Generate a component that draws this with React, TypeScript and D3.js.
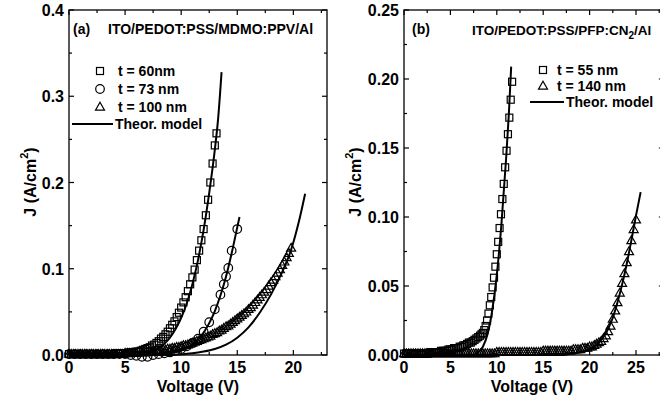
import React from "react";
import * as d3 from "d3";

// ---------- Panel (a): ITO/PEDOT:PSS/MDMO:PPV/Al ----------
const ticksXA = [0, 5, 10, 15, 20];
const minorXA = [2.5, 7.5, 12.5, 17.5, 22.5];
const ticksYA = [0, 0.1, 0.2, 0.3, 0.4];
const minorYA = [0.05, 0.15, 0.25, 0.35];

// t = 60 nm (squares) [V, J]
const sqA: [number, number][] = [
  [0,0.001],[0.2,0.001],[0.4,0.001],[0.6,0.001],[0.8,0.001],[1,0.001],[1.2,0.001],[1.4,0.001],[1.6,0.001],[1.8,0.001],
  [2,0.001],[2.2,0.001],[2.4,0.001],[2.6,0.001],[2.8,0.001],[3,0.001],[3.2,0.001],[3.4,0.001],[3.6,0.001],[3.8,0.001],
  [4,0.001],[4.2,0.002],[4.4,0.002],[4.6,0.002],[4.8,0.002],[5,0.002],[5.2,0.002],[5.4,0.003],[5.6,0.003],[5.8,0.003],
  [6,0.004],[6.2,0.004],[6.4,0.005],[6.6,0.006],[6.8,0.007],[7,0.008],[7.2,0.009],[7.4,0.011],[7.6,0.012],[7.8,0.014],
  [8,0.016],[8.2,0.019],[8.4,0.021],[8.6,0.024],[8.8,0.027],[9,0.031],[9.2,0.035],[9.4,0.039],[9.6,0.044],[9.8,0.049],
  [10,0.055],[10.2,0.061],[10.4,0.067],[10.6,0.074],[10.8,0.082],[11,0.090],[11.2,0.099],[11.4,0.110],[11.6,0.121],[11.8,0.133],
  [12,0.146],[12.2,0.162],[12.4,0.180],[12.6,0.200],[12.8,0.222],[13,0.243],[13.15,0.257]
];
// t = 73 nm (circles)
const ciA: [number, number][] = [
  [0,0.001],[0.5,0.001],[1,0.001],[1.5,0.001],[2,0.001],[2.5,0.001],[3,0.001],[3.5,0.001],[4,0.001],[4.5,0.001],
  [5,0.001],[5.5,0.000],[6,-0.001],[6.5,-0.002],[7,-0.002],[7.5,0.000],[8,0.001],[8.5,0.002],[9,0.003],[9.5,0.005],
  [10,0.007],[10.5,0.010],[11,0.014],[11.5,0.019],[12,0.027],[12.5,0.038],[13,0.053],[13.5,0.070],[13.8,0.082],[14,0.091],
  [14.2,0.101],[14.5,0.121],[15,0.146]
];
// t = 100 nm (triangles)
const trA: [number, number][] = [
  [0,0.001],[0.2,0.001],[0.4,0.001],[0.6,0.001],[0.8,0.001],[1,0.001],[1.2,0.001],[1.4,0.001],[1.6,0.001],[1.8,0.001],
  [2,0.001],[2.2,0.001],[2.4,0.001],[2.6,0.001],[2.8,0.001],[3,0.001],[3.2,0.001],[3.4,0.001],[3.6,0.001],[3.8,0.001],
  [4,0.001],[4.2,0.001],[4.4,0.001],[4.6,0.001],[4.8,0.001],[5,0.002],[5.2,0.002],[5.4,0.002],[5.6,0.002],[5.8,0.002],
  [6,0.002],[6.2,0.003],[6.4,0.003],[6.6,0.003],[6.8,0.003],[7,0.003],[7.2,0.004],[7.4,0.004],[7.6,0.004],[7.8,0.005],
  [8,0.005],[8.2,0.005],[8.4,0.006],[8.6,0.006],[8.8,0.007],[9,0.007],[9.2,0.008],[9.4,0.008],[9.6,0.009],[9.8,0.009],
  [10,0.010],[10.2,0.011],[10.4,0.011],[10.6,0.012],[10.8,0.013],[11,0.014],[11.2,0.015],[11.4,0.016],[11.6,0.017],[11.8,0.018],
  [12,0.019],[12.2,0.020],[12.4,0.021],[12.6,0.022],[12.8,0.024],[13,0.025],[13.2,0.026],[13.4,0.028],[13.6,0.029],[13.8,0.031],
  [14,0.033],[14.2,0.034],[14.4,0.036],[14.6,0.038],[14.8,0.040],[15,0.042],[15.2,0.044],[15.4,0.046],[15.6,0.048],[15.8,0.050],
  [16,0.053],[16.2,0.055],[16.4,0.058],[16.6,0.061],[16.8,0.064],[17,0.067],[17.2,0.070],[17.4,0.073],[17.6,0.076],[17.8,0.080],
  [18,0.084],[18.2,0.087],[18.4,0.091],[18.6,0.095],[18.8,0.099],[19,0.104],[19.2,0.108],[19.4,0.113],[19.6,0.118],[19.8,0.124]
];
const thSqA: [number, number][] = [
  [0,0],[6,0],[6.5,0.0005],[7,0.002],[7.5,0.004],[8,0.008],[8.5,0.013],[9,0.020],[9.5,0.030],[10,0.043],
  [10.5,0.060],[11,0.082],[11.5,0.110],[12,0.145],[12.5,0.188],[13,0.238],[13.3,0.275],[13.6,0.328]
];
const thCiA: [number, number][] = [
  [0,0],[7,0],[8,0.001],[9,0.002],[10,0.005],[10.5,0.008],[11,0.012],[11.5,0.018],[12,0.026],[12.5,0.037],
  [13,0.051],[13.5,0.069],[14,0.091],[14.5,0.118],[15,0.148],[15.2,0.160]
];
const thTrA: [number, number][] = [
  [0,0],[9,0],[10,0.001],[11,0.002],[12,0.004],[13,0.007],[14,0.012],[15,0.020],[16,0.032],[17,0.049],
  [18,0.070],[19,0.096],[19.8,0.122],[20.5,0.155],[21.05,0.187]
];

// ---------- Panel (b): ITO/PEDOT:PSS/PFP:CN2/Al ----------
const ticksXB = [0, 5, 10, 15, 20, 25];
const minorXB = [2.5, 7.5, 12.5, 17.5, 22.5, 27.5];
const ticksYB = [0, 0.05, 0.1, 0.15, 0.2, 0.25];
const minorYB = [0.025, 0.075, 0.125, 0.175, 0.225];

// t = 55 nm (squares)
const sqB: [number, number][] = [
  [0,0.001],[0.2,0.001],[0.4,0.001],[0.6,0.001],[0.8,0.001],[1,0.001],[1.2,0.001],[1.4,0.001],[1.6,0.001],[1.8,0.001],
  [2,0.001],[2.2,0.001],[2.4,0.001],[2.6,0.001],[2.8,0.002],[3,0.002],[3.2,0.002],[3.4,0.002],[3.6,0.002],[3.8,0.002],
  [4,0.003],[4.2,0.003],[4.4,0.003],[4.6,0.003],[4.8,0.004],[5,0.004],[5.2,0.004],[5.4,0.005],[5.6,0.005],[5.8,0.005],
  [6,0.006],[6.2,0.006],[6.4,0.007],[6.6,0.007],[6.8,0.008],[7,0.009],[7.2,0.009],[7.4,0.010],[7.6,0.011],[7.8,0.012],
  [8,0.013],[8.2,0.014],[8.35,0.015],[8.5,0.016],[8.65,0.018],[8.8,0.021],[8.95,0.025],[9.1,0.030],[9.25,0.036],[9.4,0.042],
  [9.55,0.049],[9.7,0.056],[9.85,0.064],[10,0.073],[10.15,0.082],[10.3,0.092],[10.45,0.102],[10.6,0.113],[10.75,0.124],[10.9,0.136],
  [11.05,0.148],[11.2,0.160],[11.35,0.172],[11.5,0.185],[11.65,0.198]
];
// t = 140 nm (triangles)
const trB: [number, number][] = [
  [0,0.001],[0.25,0.001],[0.5,0.001],[0.75,0.001],[1,0.001],[1.25,0.001],[1.5,0.001],[1.75,0.001],[2,0.001],[2.25,0.001],
  [2.5,0.001],[2.75,0.001],[3,0.001],[3.25,0.001],[3.5,0.001],[3.75,0.001],[4,0.001],[4.25,0.001],[4.5,0.001],[4.75,0.001],
  [5,0.001],[5.25,0.001],[5.5,0.001],[5.75,0.001],[6,0.001],[6.25,0.001],[6.5,0.001],[6.75,0.001],[7,0.001],[7.25,0.001],
  [7.5,0.001],[7.75,0.001],[8,0.001],[8.25,0.001],[8.5,0.001],[8.75,0.001],[9,0.001],[9.25,0.001],[9.5,0.001],[9.75,0.001],
  [10,0.002],[10.25,0.002],[10.5,0.002],[10.75,0.002],[11,0.002],[11.25,0.002],[11.5,0.002],[11.75,0.002],[12,0.002],[12.25,0.002],
  [12.5,0.002],[12.75,0.002],[13,0.002],[13.25,0.002],[13.5,0.002],[13.75,0.002],[14,0.002],[14.25,0.002],[14.5,0.002],[14.75,0.002],
  [15,0.003],[15.25,0.003],[15.5,0.003],[15.75,0.003],[16,0.003],[16.25,0.003],[16.5,0.003],[16.75,0.003],[17,0.003],[17.25,0.003],
  [17.5,0.003],[17.75,0.003],[18,0.003],[18.25,0.004],[18.5,0.004],[18.75,0.004],[19,0.004],[19.25,0.005],[19.5,0.005],[19.75,0.005],
  [20,0.006],[20.25,0.006],[20.5,0.007],[20.75,0.008],[21,0.009],[21.25,0.010],[21.5,0.012],[21.75,0.014],[22,0.017],[22.25,0.021],
  [22.5,0.026],[22.75,0.032],[23,0.038],[23.25,0.045],[23.5,0.052],[23.75,0.059],[24,0.067],[24.25,0.075],[24.5,0.083],[24.75,0.091],
  [25,0.098]
];
const thSqB: [number, number][] = [
  [0,0],[7.5,0],[8,0.002],[8.5,0.006],[9,0.015],[9.5,0.032],[10,0.058],[10.5,0.095],[11,0.142],[11.3,0.175],[11.55,0.209]
];
const thTrB: [number, number][] = [
  [0,0],[17,0],[18,0.001],[19,0.002],[20,0.004],[20.5,0.006],[21,0.009],[21.5,0.013],[22,0.019],[22.5,0.027],
  [23,0.038],[23.5,0.051],[24,0.066],[24.5,0.083],[25,0.101],[25.5,0.118]
];

const FONT = "'Liberation Sans', Arial, Helvetica, sans-serif";

type Scale = d3.ScaleLinear<number, number>;

function Square({ x, y, s = 7 }: { x: number; y: number; s?: number }) {
  return <rect x={x - s / 2} y={y - s / 2} width={s} height={s} fill="none" stroke="#000" strokeWidth={1.2} />;
}
function Circ({ x, y, r = 4.3 }: { x: number; y: number; r?: number }) {
  return <circle cx={x} cy={y} r={r} fill="none" stroke="#000" strokeWidth={1.2} />;
}
function Tri({ x, y, s = 9 }: { x: number; y: number; s?: number }) {
  const h = s * 0.87;
  const d = `M${x},${y - h * 0.6}L${x + s / 2},${y + h * 0.4}L${x - s / 2},${y + h * 0.4}Z`;
  return <path d={d} fill="none" stroke="#000" strokeWidth={1.2} />;
}

function Frame({ x, y, ticksX, minorX, ticksY, minorY, fmtY }: {
  x: Scale; y: Scale; ticksX: number[]; minorX: number[]; ticksY: number[]; minorY: number[]; fmtY: (v: number) => string;
}) {
  const [x0, x1] = x.range();
  const [y0, y1] = y.range();
  const maj = 5, mnr = 3;
  return (
    <g>
      <rect x={x0} y={y1} width={x1 - x0} height={y0 - y1} fill="none" stroke="#000" strokeWidth={1.3} />
      {ticksX.map((t) => (
        <g key={"mx" + t}>
          <line x1={x(t)} x2={x(t)} y1={y0} y2={y0 - maj} stroke="#000" strokeWidth={1.2} />
          <line x1={x(t)} x2={x(t)} y1={y1} y2={y1 + maj} stroke="#000" strokeWidth={1.2} />
          <text x={x(t)} y={y0 + 18} textAnchor="middle" fontSize={16} fontWeight="bold" fontFamily={FONT}>{t}</text>
        </g>
      ))}
      {minorX.map((t) => (
        <g key={"nx" + t}>
          <line x1={x(t)} x2={x(t)} y1={y0} y2={y0 - mnr} stroke="#000" strokeWidth={1.2} />
          <line x1={x(t)} x2={x(t)} y1={y1} y2={y1 + mnr} stroke="#000" strokeWidth={1.2} />
        </g>
      ))}
      {ticksY.map((t) => (
        <g key={"my" + t}>
          <line x1={x0} x2={x0 + maj} y1={y(t)} y2={y(t)} stroke="#000" strokeWidth={1.2} />
          <line x1={x1} x2={x1 - maj} y1={y(t)} y2={y(t)} stroke="#000" strokeWidth={1.2} />
          <text x={x0 - 5} y={y(t) + 6} textAnchor="end" fontSize={16} fontWeight="bold" fontFamily={FONT}>{fmtY(t)}</text>
        </g>
      ))}
      {minorY.map((t) => (
        <g key={"ny" + t}>
          <line x1={x0} x2={x0 + mnr} y1={y(t)} y2={y(t)} stroke="#000" strokeWidth={1.2} />
          <line x1={x1} x2={x1 - mnr} y1={y(t)} y2={y(t)} stroke="#000" strokeWidth={1.2} />
        </g>
      ))}
    </g>
  );
}

export default function App() {
  const xA = d3.scaleLinear().domain([0, 23]).range([69, 327]);
  const yA = d3.scaleLinear().domain([0, 0.4]).range([355, 10]);
  const xB = d3.scaleLinear().domain([0, 28]).range([404, 404 + 28 * 9.28]);
  const yB = d3.scaleLinear().domain([0, 0.25]).range([355, 10]);

  const lineA = d3.line<[number, number]>().x((d) => xA(d[0])).y((d) => yA(d[1])).curve(d3.curveMonotoneX);
  const lineB = d3.line<[number, number]>().x((d) => xB(d[0])).y((d) => yB(d[1])).curve(d3.curveMonotoneX);

  const fmtA = d3.format(".1f");
  const fmtB = d3.format(".2f");

  return (
    <svg width={660} height={408} style={{ position: "absolute", left: 0, top: 0, background: "#fff" }}
      fontFamily={FONT}>
      <rect x={0} y={0} width={660} height={408} fill="#fff" />
      {/* Panel a */}
      <Frame x={xA} y={yA} ticksX={ticksXA} minorX={minorXA} ticksY={ticksYA} minorY={minorYA} fmtY={fmtA} />
      {sqA.map((d, i) => <Square key={"sa" + i} x={xA(d[0])} y={yA(d[1])} />)}
      {ciA.map((d, i) => <Circ key={"ca" + i} x={xA(d[0])} y={yA(d[1])} />)}
      {trA.map((d, i) => <Tri key={"ta" + i} x={xA(d[0])} y={yA(d[1])} />)}
      <path d={lineA(thSqA) || ""} fill="none" stroke="#000" strokeWidth={2} />
      <path d={lineA(thCiA) || ""} fill="none" stroke="#000" strokeWidth={2} />
      <path d={lineA(thTrA) || ""} fill="none" stroke="#000" strokeWidth={2} />
      <text x={73} y={34} fontSize={14} fontWeight="bold">(a)</text>
      <text x={108} y={34} fontSize={14} fontWeight="bold">ITO/PEDOT:PSS/MDMO:PPV/Al</text>
      <Square x={100} y={71} />
      <text x={118} y={76} fontSize={14} fontWeight="bold">t = 60nm</text>
      <Circ x={100} y={89} />
      <text x={118} y={94} fontSize={14} fontWeight="bold">t = 73 nm</text>
      <Tri x={100} y={107} />
      <text x={118} y={112} fontSize={14} fontWeight="bold">t = 100 nm</text>
      <line x1={72} x2={113} y1={124} y2={124} stroke="#000" strokeWidth={2} />
      <text x={115} y={129} fontSize={14} fontWeight="bold">Theor. model</text>
      <text x={198} y={392} textAnchor="middle" fontSize={16} fontWeight="bold">Voltage (V)</text>
      <text transform="translate(30,182) rotate(-90)" textAnchor="middle" dominantBaseline="central" fontSize={16} fontWeight="bold">
        J (A/cm<tspan dy={-6} fontSize={11}>2</tspan><tspan dy={6}>)</tspan>
      </text>

      {/* Panel b */}
      <Frame x={xB} y={yB} ticksX={ticksXB} minorX={minorXB} ticksY={ticksYB} minorY={minorYB} fmtY={fmtB} />
      {sqB.map((d, i) => <Square key={"sb" + i} x={xB(d[0])} y={yB(d[1])} />)}
      {trB.map((d, i) => <Tri key={"tb" + i} x={xB(d[0])} y={yB(d[1])} />)}
      <path d={lineB(thSqB) || ""} fill="none" stroke="#000" strokeWidth={2} />
      <path d={lineB(thTrB) || ""} fill="none" stroke="#000" strokeWidth={2} />
      <text x={412} y={34} fontSize={14} fontWeight="bold">(b)</text>
      <text x={472} y={35} fontSize={13.5} fontWeight="bold">
        ITO/PEDOT:PSS/PFP:CN<tspan dy={4} fontSize={10}>2</tspan><tspan dy={-4}>/Al</tspan>
      </text>
      <Square x={543} y={70} />
      <text x={557} y={75} fontSize={14} fontWeight="bold">t = 55 nm</text>
      <Tri x={543} y={86} />
      <text x={557} y={91} fontSize={14} fontWeight="bold">t = 140 nm</text>
      <line x1={530} x2={564} y1={102} y2={102} stroke="#000" strokeWidth={2} />
      <text x={566} y={107} fontSize={14} fontWeight="bold">Theor.  model</text>
      <text x={532} y={392} textAnchor="middle" fontSize={16} fontWeight="bold">Voltage (V)</text>
      <text transform="translate(355,182) rotate(-90)" textAnchor="middle" dominantBaseline="central" fontSize={16} fontWeight="bold">
        J (A/cm<tspan dy={-6} fontSize={11}>2</tspan><tspan dy={6}>)</tspan>
      </text>
    </svg>
  );
}
